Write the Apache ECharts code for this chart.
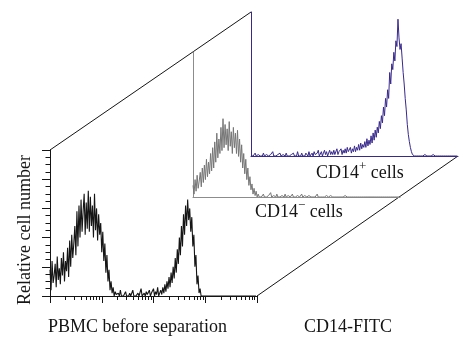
<!DOCTYPE html>
<html>
<head>
<meta charset="utf-8">
<title>CD14 separation histograms</title>
<script src="https://cdn.jsdelivr.net/npm/echarts@6/dist/echarts.min.js"></script>
<style>
html, body { margin: 0; padding: 0; background: #fff; }
#chart { width: 463px; height: 337px; }
</style>
</head>
<body>
<div id="chart"></div>
<script>
// histogram channels, spread over 4 log decades
const channels = 200;
const decades = 4;

// relative cell number per channel (0-100)
// front: PBMC before separation
const pbmcCounts = [
  18, 4, 24, 9, 14, 22, 6, 27, 11, 19,
  8, 26, 14, 30, 10, 24, 17, 33, 13, 38,
  20, 42, 26, 36, 48, 28, 58, 34, 62, 40,
  66, 44, 58, 70, 42, 64, 46, 72, 44, 68,
  48, 62, 40, 70, 45, 60, 38, 56, 42, 50,
  30, 44, 24, 36, 16, 28, 10, 18, 4, 10,
  2, 6, 0, 3, 1, 0, 2, 0, 4, 0,
  1, 0, 0, 3, 0, 1, 0, 2, 0, 0,
  4, 0, 1, 0, 0, 2, 0, 1, 5, 0,
  0, 2, 0, 3, 1, 0, 4, 0, 2, 1,
  5, 0, 3, 1, 6, 0, 2, 4, 1, 6,
  2, 8, 3, 10, 5, 13, 6, 16, 9, 20,
  12, 26, 16, 32, 22, 40, 28, 48, 34, 56,
  42, 62, 48, 66, 52, 60, 44, 54, 34, 42,
  20, 28, 8, 14, 2, 5, 0, 1, 0, 0,
  0, 0, 0, 0, 0, 0, 0, 0, 0, 0,
  0, 0, 0, 0, 0, 0, 0, 0, 0, 0,
  0, 0, 0, 0, 0, 0, 0, 0, 0, 0,
  0, 0, 0, 0, 0, 0, 0, 0, 0, 0,
  0, 0, 0, 0, 0, 0, 0, 0, 0, 0
];
// middle: CD14- cells
const cd14NegCounts = [
  8, 2, 12, 4, 15, 6, 11, 17, 7, 20,
  10, 22, 12, 26, 14, 24, 16, 30, 18, 34,
  20, 38, 24, 44, 27, 40, 30, 48, 32, 54,
  34, 50, 36, 47, 32, 52, 35, 45, 30, 48,
  34, 44, 30, 46, 28, 40, 24, 36, 20, 30,
  16, 26, 12, 20, 8, 14, 5, 9, 2, 6,
  1, 4, 0, 2, 0, 1, 0, 0, 2, 0,
  1, 0, 0, 1, 0, 3, 0, 0, 1, 0,
  0, 2, 0, 1, 0, 0, 1, 0, 0, 2,
  0, 0, 1, 0, 0, 0, 2, 0, 1, 0,
  0, 1, 0, 0, 0, 2, 0, 0, 1, 0,
  0, 0, 1, 0, 0, 0, 0, 1, 0, 0,
  2, 0, 0, 0, 1, 0, 0, 0, 0, 1,
  0, 0, 0, 1, 0, 0, 0, 0, 1, 0,
  0, 0, 1, 0, 0, 0, 0, 1, 0, 0,
  0, 0, 0, 0, 0, 0, 0, 0, 0, 0,
  0, 0, 0, 0, 0, 0, 0, 0, 0, 0,
  0, 0, 0, 0, 0, 0, 0, 0, 0, 0,
  0, 0, 0, 0, 0, 0, 0, 0, 0, 0,
  0, 0, 0, 0, 0, 0, 0, 0, 0, 0
];
// back: CD14+ cells
const cd14PosCounts = [
  0, 1, 0, 0, 2, 0, 0, 1, 0, 0,
  1, 0, 2, 0, 0, 1, 0, 0, 0, 1,
  0, 3, 0, 1, 0, 0, 1, 0, 2, 0,
  0, 1, 0, 0, 2, 0, 1, 0, 0, 1,
  0, 2, 0, 1, 0, 3, 0, 1, 0, 2,
  0, 1, 0, 2, 1, 0, 3, 0, 1, 2,
  0, 3, 1, 0, 2, 4, 0, 1, 3, 0,
  2, 4, 1, 3, 0, 2, 4, 1, 3, 1,
  4, 1, 2, 5, 1, 3, 2, 5, 1, 4,
  2, 5, 2, 6, 3, 4, 6, 2, 5, 3,
  7, 3, 6, 4, 8, 4, 9, 5, 8, 6,
  10, 6, 12, 7, 11, 8, 14, 9, 16, 11,
  18, 13, 20, 16, 24, 19, 28, 23, 34, 28,
  40, 34, 46, 40, 58, 50, 64, 60, 72, 66,
  80, 76, 95, 82, 74, 78, 68, 58, 50, 40,
  32, 22, 15, 10, 6, 3, 1, 0, 0, 0,
  0, 1, 0, 0, 0, 0, 0, 0, 1, 0,
  0, 0, 0, 0, 0, 0, 1, 0, 0, 0,
  0, 0, 0, 0, 0, 0, 0, 0, 0, 1,
  0, 0, 0, 0, 0, 0, 0, 0, 0, 0
];

const yTitle = 'Relative cell number';
const xTitle = 'CD14-FITC';
const frontTitle = 'PBMC before separation';

// panel boxes (pixels), drawn back to front
const back = { left: 251, top: 12, width: 207, height: 144 };
const middle = { left: 193, top: 52, width: 207, height: 145 };
const front = { left: 50, top: 150, width: 207, height: 146 };

const blue = '#38298c';
const grey = '#767676';
const greyAxis = '#8c8c8c';
const black = '#151515';
const font = '"Liberation Serif", "DejaVu Serif", serif';

// log scale tick positions, in channels
const majorTicks = [];
const minorTicks = [];
for (let d = 0; d <= decades; d++) {
  majorTicks.push(d * channels / decades);
  if (d < decades) {
    for (let k = 2; k <= 9; k++) {
      minorTicks.push((d + Math.log10(k)) * channels / decades);
    }
  }
}

function toPairs(arr) {
  return arr.map((v, i) => [i, v]);
}

function plainX(grid, color) {
  return {
    gridIndex: grid, type: 'value', min: 0, max: channels, position: 'bottom',
    axisLine: { show: true, lineStyle: { color: color, width: 1 } },
    axisTick: { show: false }, axisLabel: { show: false }, splitLine: { show: false }
  };
}
function plainY(grid, color) {
  return {
    gridIndex: grid, type: 'value', min: 0, max: 100,
    axisLine: { show: true, lineStyle: { color: color, width: 1 } },
    axisTick: { show: false }, axisLabel: { show: false }, splitLine: { show: false }
  };
}
function histo(name, data, idx, color, w) {
  return {
    name: name, type: 'line', xAxisIndex: idx, yAxisIndex: idx,
    data: toPairs(data), showSymbol: false, symbol: 'none',
    lineStyle: { color: color, width: w }, silent: true
  };
}

const chart = echarts.init(document.getElementById('chart'));

const option = {
  animation: false,
  backgroundColor: '#fff',
  grid: [back, middle, front],
  xAxis: [
    plainX(0, blue),
    plainX(1, greyAxis),
    {
      gridIndex: 2, type: 'value', min: 0, max: channels, position: 'bottom',
      axisLine: { show: true, lineStyle: { color: black, width: 1 } },
      axisTick: { show: true, customValues: majorTicks, length: 7, lineStyle: { color: black } },
      axisLabel: { show: false }, splitLine: { show: false }
    },
    {
      gridIndex: 2, type: 'value', min: 0, max: channels, position: 'bottom',
      axisLine: { show: false },
      axisTick: { show: true, customValues: minorTicks, length: 4, lineStyle: { color: black } },
      axisLabel: { show: false }, splitLine: { show: false }
    }
  ],
  yAxis: [
    plainY(0, blue),
    plainY(1, greyAxis),
    {
      gridIndex: 2, type: 'value', min: 0, max: 100, interval: 20,
      axisLine: { show: true, lineStyle: { color: black, width: 1 } },
      axisTick: { show: true, length: 8, lineStyle: { color: black } },
      minorTick: { show: true, splitNumber: 4, length: 4.5, lineStyle: { color: black } },
      axisLabel: { show: false }, splitLine: { show: false }
    }
  ],
  series: [
    histo('CD14+ cells', cd14PosCounts, 0, blue, 1),
    histo('CD14- cells', cd14NegCounts, 1, grey, 1),
    histo('PBMC', pbmcCounts, 2, black, 1.1)
  ],
  graphic: [
    // perspective edges joining the panels
    {
      type: 'line', silent: true,
      shape: { x1: front.left, y1: front.top, x2: back.left, y2: back.top },
      style: { stroke: black, lineWidth: 1 }
    },
    {
      type: 'line', silent: true,
      shape: {
        x1: front.left + front.width, y1: front.top + front.height,
        x2: back.left + back.width, y2: back.top + back.height
      },
      style: { stroke: black, lineWidth: 1 }
    },
    {
      type: 'text', x: 25, y: 230, rotation: Math.PI / 2,
      style: { text: yTitle, font: '18px ' + font, fill: black, align: 'center', verticalAlign: 'middle', textAlign: 'center', textVerticalAlign: 'middle' }
    },
    {
      type: 'text', x: 48, y: 327,
      style: { text: frontTitle, font: '18px ' + font, fill: black, align: 'left', verticalAlign: 'middle', textAlign: 'left', textVerticalAlign: 'middle' }
    },
    {
      type: 'text', x: 304, y: 327,
      style: { text: xTitle, font: '18px ' + font, fill: black, align: 'left', verticalAlign: 'middle', textAlign: 'left', textVerticalAlign: 'middle' }
    },
    {
      type: 'text', x: 316, y: 171,
      style: {
        text: '{a|CD14}{s|+}{a| cells}', fill: black, align: 'left', verticalAlign: 'middle',
        rich: {
          a: { fontSize: 18, fontFamily: font, fill: black, verticalAlign: 'bottom' },
          s: { fontSize: 13, fontFamily: font, fill: black, verticalAlign: 'bottom', padding: [0, 0, 9, 0] }
        }
      }
    },
    {
      type: 'text', x: 255, y: 210,
      style: {
        text: '{a|CD14}{s|\u2212}{a| cells}', fill: black, align: 'left', verticalAlign: 'middle',
        rich: {
          a: { fontSize: 18, fontFamily: font, fill: black, verticalAlign: 'bottom' },
          s: { fontSize: 13, fontFamily: font, fill: black, verticalAlign: 'bottom', padding: [0, 0, 9, 0] }
        }
      }
    }
  ]
};

chart.setOption(option);
window.addEventListener('resize', () => { chart.resize(); });
</script>
</body>
</html>
